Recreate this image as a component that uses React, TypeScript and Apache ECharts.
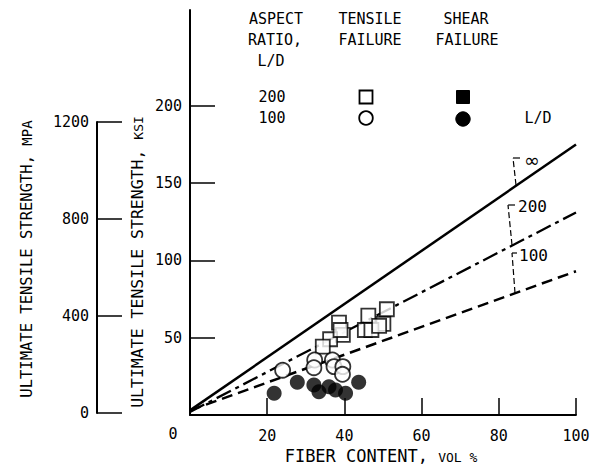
import React, { useEffect, useRef } from 'react';
import * as echarts from 'echarts';

// Axis ticks
const xTicks = [0, 20, 40, 60, 80, 100];
const ksiTicks = [0, 50, 100, 150, 200];
const mpaTicks = [0, 400, 800, 1200];

// Data: [fiber content vol %, strength ksi]
const tensile200 = [
  [51.0, 68.4], [46.2, 64.3], [50.1, 58.9], [45.3, 55.0], [47.0, 55.0], [49.0, 57.6],
  [38.6, 59.7], [39.6, 51.8], [36.3, 49.0], [34.4, 44.2], [39.0, 55.0],
];
const tensile100 = [
  [24.0, 29.0], [32.3, 35.6], [32.1, 30.6], [36.9, 35.6], [37.3, 31.3], [39.6, 31.3], [39.5, 26.3],
];
const shear100 = [
  [21.8, 14.0], [27.8, 21.2], [32.1, 19.4], [33.4, 15.1], [36.0, 18.3], [37.7, 16.2], [40.3, 14.0], [43.7, 21.2],
];
const shear200: number[][] = [];

// Prediction lines for L/D = infinity, 200, 100
const lineInf = [[0, 3], [100, 175]];
const line200 = [[0, 2], [100, 131]];
const line100 = [[0, 3], [100, 93]];

const FONT = 'DejaVu Sans Mono';
const ADV = 0.602; // monospace advance per em

export default function App() {
  const ref = useRef<HTMLDivElement>(null);
  useEffect(() => {
    const chart = echarts.init(ref.current!, null, { renderer: 'svg' });
    const txt = (text: string, x: number, y: number, size = 15, align = 'center', family = FONT) => ({
      type: 'text', x, y, silent: true,
      style: { text, fill: '#000', fontFamily: family, fontSize: size, align, verticalAlign: 'middle' },
    });
    // Title with a small-caps tail, centred on (x, y), optionally rotated
    const title = (x: number, y: number, rotation: number, big: string, small: string, bs: number, ss: number) => {
      const wb = big.length * ADV * bs;
      const ws = small.length * ADV * ss;
      const split = (wb + ws) / 2 - ws;
      return {
        type: 'group', x, y, rotation, silent: true,
        children: [
          { type: 'text', x: split, y: 0, style: { text: big, fill: '#000', fontFamily: FONT, fontSize: bs, align: 'right', verticalAlign: 'middle' } },
          { type: 'text', x: split, y: (bs - ss) * 0.3, style: { text: small, fill: '#000', fontFamily: FONT, fontSize: ss, align: 'left', verticalAlign: 'middle' } },
        ],
      };
    };
    const open = { fill: '#fff', stroke: '#000', lineWidth: 1.8 };
    const filled = { fill: '#000', stroke: '#000', lineWidth: 1 };
    const leader = { stroke: '#000', lineWidth: 1.2, lineDash: [6, 3] };
    const solidThin = { stroke: '#000', lineWidth: 1.2 };

    const option: any = {
      animation: false,
      backgroundColor: '#fff',
      grid: [
        { left: 190, right: 17, top: 10, bottom: 57 },
        { left: 97, top: 122, height: 291, width: 20 },
      ],
      xAxis: [
        {
          gridIndex: 0, type: 'value', min: 0, max: 100, interval: 20,
          axisLine: { lineStyle: { color: '#000', width: 1.8 } },
          axisTick: { inside: true, length: 17, lineStyle: { color: '#000', width: 1.5 } },
          axisLabel: {
            margin: 13, color: '#000', fontFamily: FONT, fontSize: 15,
            customValues: xTicks.filter((v) => v > 0),
            formatter: (v: number) => String(v),
          },
          splitLine: { show: false },
        },
        { gridIndex: 1, type: 'value', min: 0, max: 1, show: false },
      ],
      yAxis: [
        {
          gridIndex: 0, type: 'value', min: 0, max: 262,
          axisLine: { show: true, lineStyle: { color: '#000', width: 2 } },
          axisTick: { show: true, inside: true, length: 25, customValues: ksiTicks, lineStyle: { color: '#000', width: 1.5 } },
          axisLabel: {
            margin: 8, color: '#000', fontFamily: FONT, fontSize: 15,
            customValues: ksiTicks.filter((v) => v > 0),
            formatter: (v: number) => String(v),
          },
          splitLine: { show: false },
        },
        {
          gridIndex: 1, type: 'value', min: 0, max: 1200, interval: 400,
          axisLine: { show: true, lineStyle: { color: '#000', width: 2 } },
          axisTick: { show: true, inside: true, length: 25, customValues: mpaTicks, lineStyle: { color: '#000', width: 1.5 } },
          axisLabel: {
            margin: 8, color: '#000', fontFamily: FONT, fontSize: 15, customValues: mpaTicks,
            formatter: (v: number) => String(v),
          },
          splitLine: { show: false },
        },
      ],
      series: [
        {
          type: 'line', name: 'L/D ∞', data: lineInf, symbol: 'none', silent: true, z: 2,
          lineStyle: { color: '#000', width: 2.5, type: 'solid' },
        },
        {
          type: 'line', name: 'L/D 200', data: line200, symbol: 'none', silent: true, z: 2,
          lineStyle: { color: '#000', width: 2.3, type: [16, 5, 4, 5] },
        },
        {
          type: 'line', name: 'L/D 100', data: line100, symbol: 'none', silent: true, z: 2,
          lineStyle: { color: '#000', width: 2.5, type: [11, 6] },
        },
        {
          type: 'scatter', name: 'Tensile 200', data: tensile200, symbol: 'rect', symbolSize: 14, z: 3,
          itemStyle: { color: '#fff', borderColor: '#000', borderWidth: 1.8 },
        },
        {
          type: 'scatter', name: 'Tensile 100', data: tensile100, symbol: 'circle', symbolSize: 15, z: 3,
          itemStyle: { color: '#fff', borderColor: '#000', borderWidth: 1.8 },
        },
        {
          type: 'scatter', name: 'Shear 200', data: shear200, symbol: 'rect', symbolSize: 14, z: 4,
          itemStyle: { color: '#000' },
        },
        {
          type: 'scatter', name: 'Shear 100', data: shear100, symbol: 'circle', symbolSize: 15, z: 4,
          itemStyle: { color: '#000' },
        },
      ],
      graphic: [
        // axis titles
        title(27, 259, Math.PI / 2, 'ULTIMATE TENSILE STRENGTH, ', 'MPA', 15.5, 14),
        title(137, 262, Math.PI / 2, 'ULTIMATE TENSILE STRENGTH, ', 'KSI', 16.5, 13),
        title(381, 456, 0, 'FIBER CONTENT, ', 'VOL %', 17, 13),
        txt('0', 173, 434),
        // legend
        txt('ASPECT', 276, 19),
        txt('RATIO,', 275, 40),
        txt('L/D', 271, 61),
        txt('TENSILE', 370, 19),
        txt('FAILURE', 370, 40),
        txt('SHEAR', 466, 19),
        txt('FAILURE', 467, 40),
        txt('200', 272, 97),
        txt('100', 272, 118),
        { type: 'rect', shape: { x: 359.5, y: 90.5, width: 13, height: 13 }, style: open, silent: true },
        { type: 'circle', shape: { cx: 366, cy: 118, r: 6.8 }, style: open, silent: true },
        { type: 'rect', shape: { x: 456.5, y: 90.5, width: 13, height: 13 }, style: filled, silent: true },
        { type: 'circle', shape: { cx: 463, cy: 119, r: 7.2 }, style: filled, silent: true },
        txt('L/D', 538, 118),
        // line annotations
        { type: 'polyline', shape: { points: [[516, 185], [513, 158]] }, style: leader, silent: true },
        { type: 'line', shape: { x1: 513, y1: 158, x2: 520, y2: 158 }, style: solidThin, silent: true },
        txt('∞', 524, 160, 19, 'left', 'DejaVu Sans'),
        { type: 'polyline', shape: { points: [[512, 245], [508, 205]] }, style: leader, silent: true },
        { type: 'line', shape: { x1: 508, y1: 205, x2: 515, y2: 205 }, style: solidThin, silent: true },
        txt('200', 518, 206, 16, 'left'),
        { type: 'polyline', shape: { points: [[515, 293], [512, 253]] }, style: leader, silent: true },
        { type: 'line', shape: { x1: 512, y1: 253, x2: 517, y2: 253 }, style: solidThin, silent: true },
        txt('100', 519, 255, 16, 'left'),
      ],
    };
    chart.setOption(option);
    return () => chart.dispose();
  }, []);
  return <div ref={ref} style={{ position: 'fixed', left: 0, top: 0, width: 593, height: 472 }} />;
}
